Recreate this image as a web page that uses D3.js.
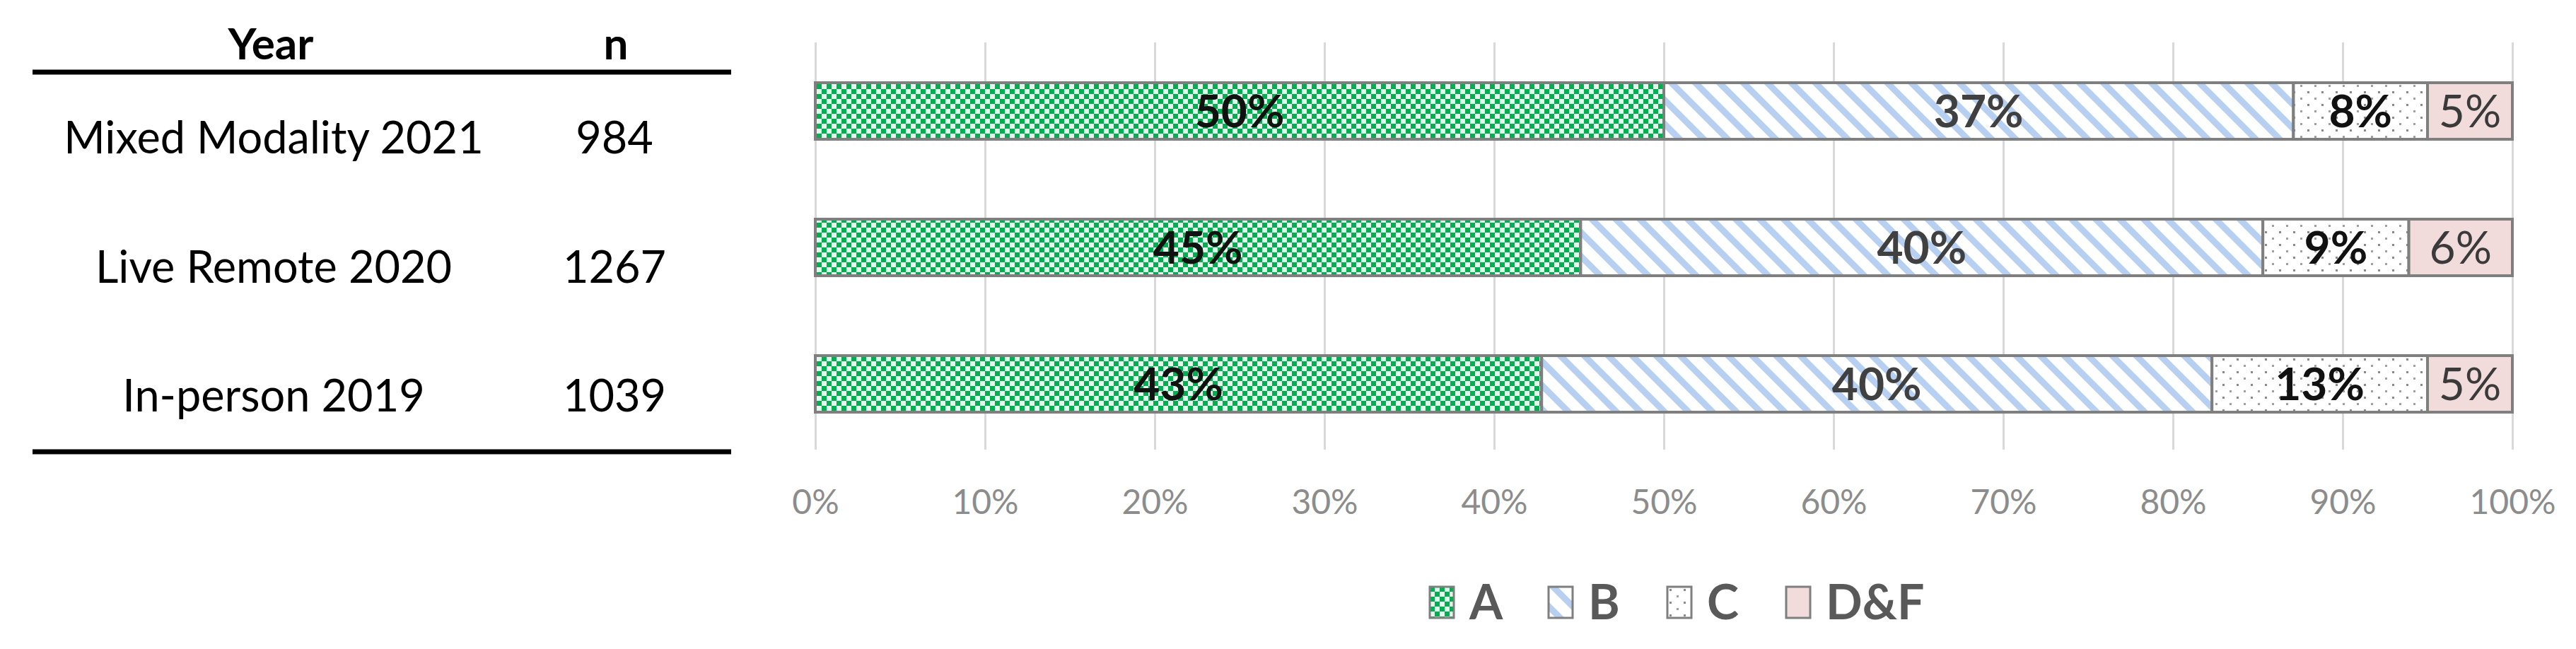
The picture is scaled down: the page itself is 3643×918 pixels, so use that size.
<!DOCTYPE html>
<html>
<head>
<meta charset="utf-8">
<script src="https://cdn.jsdelivr.net/npm/d3@7"></script>
<style>
body { margin: 0; background: #fff; }
text { font-family: Lato, "Open Sans", sans-serif; }
</style>
</head>
<body>
<div id="viz"></div>
<script>
// data
var groups = ["Mixed Modality 2021", "Live Remote 2020", "In-person 2019"];
var counts = [984, 1267, 1039];
var grades = ["A", "B", "C", "D&F"];
var gradeA = [50.0, 45.1, 42.8];
var gradeB = [37.1, 40.2, 39.5];
var gradeC = [7.9, 8.6, 12.7];
var gradeDF = [5.0, 6.1, 5.0];
var xTicks = [0, 10, 20, 30, 40, 50, 60, 70, 80, 90, 100];

var W = 3643, H = 918;

var svg = d3.select("#viz")
        .append("svg")
        .attr("width", W)
        .attr("height", H);

var rows = groups.map(function(g, i) {
    return { group: g, n: counts[i], A: gradeA[i], B: gradeB[i], C: gradeC[i], "D&F": gradeDF[i] };
});
var stacked = d3.stack().keys(grades)(rows);

var x = d3.scaleLinear().domain([0, 100]).range([1153, 3553]);
var y = d3.scaleBand().domain(groups).range([60.5, 639.5])
        .paddingInner(0.5855).paddingOuter(0.2927);
var tableY = d3.scalePoint().domain(groups).range([194, 559]);

// fill patterns
var defs = svg.append("defs");
var pA = defs.append("pattern").attr("id", "pat-A")
        .attr("patternUnits", "userSpaceOnUse").attr("width", 14).attr("height", 14);
pA.append("rect").attr("width", 14).attr("height", 14).attr("fill", "#e2f8ea");
pA.append("rect").attr("width", 7).attr("height", 7).attr("fill", "#00b050");
pA.append("rect").attr("x", 7).attr("y", 7).attr("width", 7).attr("height", 7).attr("fill", "#00b050");

var pB = defs.append("pattern").attr("id", "pat-B")
        .attr("patternUnits", "userSpaceOnUse").attr("width", 24).attr("height", 24)
        .attr("patternTransform", "rotate(-45)");
pB.append("rect").attr("width", 24).attr("height", 24).attr("fill", "#ffffff");
pB.append("rect").attr("width", 9).attr("height", 24).attr("fill", "#b7cff0");

var pC = defs.append("pattern").attr("id", "pat-C")
        .attr("patternUnits", "userSpaceOnUse").attr("width", 20).attr("height", 18);
pC.append("rect").attr("width", 20).attr("height", 18).attr("fill", "#ffffff");
pC.append("rect").attr("x", 3).attr("y", 3).attr("width", 3).attr("height", 3).attr("fill", "#8a8a8a");
pC.append("rect").attr("x", 13).attr("y", 12).attr("width", 3).attr("height", 3).attr("fill", "#a0a0a0");

var fills = { "A": "url(#pat-A)", "B": "url(#pat-B)", "C": "url(#pat-C)", "D&F": "#f2dcdb" };
var labelColor = { "A": "#111", "B": "#404040", "C": "#111", "D&F": "#3a3a3a" };
var labelWeight = { "A": "bold", "B": "bold", "C": "bold", "D&F": "normal" };

// gridlines
var gridBottom = 636;
svg.append("g")
        .attr("transform", "translate(0," + gridBottom + ")")
        .call(d3.axisBottom(x).tickValues(xTicks).tickSize(-(gridBottom - 60)).tickFormat(""))
        .call(function(g) { g.select(".domain").remove(); })
        .selectAll("line")
        .attr("stroke", "#d9d9d9")
        .attr("stroke-width", 3);

// tick labels
svg.append("g")
        .attr("transform", "translate(0,727)")
        .call(d3.axisBottom(x).tickValues(xTicks).tickSize(0).tickPadding(0)
            .tickFormat(function(d) { return d + "%"; }))
        .call(function(g) { g.select(".domain").remove(); })
        .selectAll("text")
        .attr("dy", 0)
        .attr("y", 0)
        .style("font-family", "Lato, sans-serif")
        .style("font-size", "48px")
        .attr("fill", "#8c8c8c");

// bars
var layer = svg.selectAll("g.layer")
        .data(stacked)
        .enter()
        .append("g")
        .attr("class", "layer");

layer.selectAll("rect")
        .data(function(s) { return s.map(function(d) { d.key = s.key; return d; }); })
        .enter()
        .append("rect")
        .attr("x", function(d) { return x(d[0]); })
        .attr("y", function(d) { return y(d.data.group); })
        .attr("width", function(d) { return x(d[1]) - x(d[0]); })
        .attr("height", y.bandwidth())
        .style("fill", function(d) { return fills[d.key]; })
        .style("stroke", "#7f7f7f")
        .style("stroke-width", 4);

layer.selectAll("text")
        .data(function(s) { return s; })
        .enter()
        .append("text")
        .attr("x", function(d) { return (x(d[0]) + x(d[1])) / 2; })
        .attr("y", function(d) { return y(d.data.group) + y.bandwidth() / 2 + 23; })
        .attr("text-anchor", "middle")
        .style("font-size", "64px")
        .style("font-weight", function(d) { return labelWeight[d.key]; })
        .attr("fill", function(d) { return labelColor[d.key]; })
        .text(function(d) { return d3.format(".0f")(d[1] - d[0]) + "%"; });

// table on the left
var table = svg.append("g");
table.append("text").attr("x", 383).attr("y", 84).attr("text-anchor", "middle")
        .style("font-size", "62px").style("font-weight", "bold").text("Year");
table.append("text").attr("x", 871).attr("y", 84).attr("text-anchor", "middle")
        .style("font-size", "62px").style("font-weight", "bold").text("n");
table.append("line").attr("x1", 46).attr("x2", 1034).attr("y1", 102).attr("y2", 102)
        .attr("stroke", "#000").attr("stroke-width", 7);
table.append("line").attr("x1", 46).attr("x2", 1034).attr("y1", 639).attr("y2", 639)
        .attr("stroke", "#000").attr("stroke-width", 7);

table.selectAll("text.grp")
        .data(rows)
        .enter()
        .append("text")
        .attr("class", "grp")
        .attr("x", 387)
        .attr("y", function(d) { return tableY(d.group) + 23; })
        .attr("text-anchor", "middle")
        .style("font-size", "63px")
        .text(function(d) { return d.group; });

table.selectAll("text.cnt")
        .data(rows)
        .enter()
        .append("text")
        .attr("class", "cnt")
        .attr("x", 869)
        .attr("y", function(d) { return tableY(d.group) + 23; })
        .attr("text-anchor", "middle")
        .style("font-size", "63px")
        .text(function(d) { return d.n; });

// legend
var legend = svg.append("g").attr("transform", "translate(2022,830)");
var item = legend.selectAll("g")
        .data(grades)
        .enter()
        .append("g")
        .attr("transform", function(d, i) { return "translate(" + (i * 168) + ",0)"; });
item.append("rect")
        .attr("width", 34)
        .attr("height", 44)
        .style("fill", function(d) { return fills[d]; })
        .style("stroke", "#7f7f7f")
        .style("stroke-width", 3);
item.append("text")
        .attr("x", 56)
        .attr("y", 46)
        .style("font-size", "68px")
        .style("font-weight", "bold")
        .attr("fill", "#595959")
        .text(function(d) { return d; });
</script>
</body>
</html>
